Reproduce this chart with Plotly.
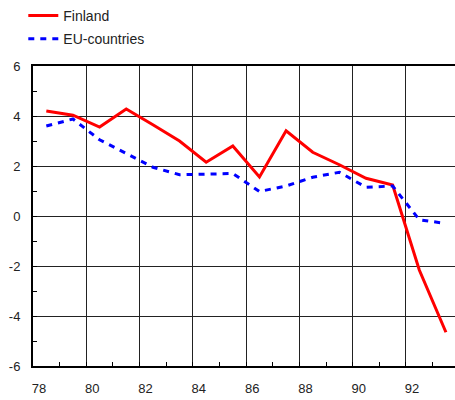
import plotly.graph_objects as go

years = [78.5, 79.5, 80.5, 81.5, 82.5, 83.5, 84.5, 85.5, 86.5, 87.5, 88.5, 89.5, 90.5, 91.5, 92.5, 93.5]
finland = [4.2, 4.03, 3.56, 4.28, 3.65, 3.0, 2.15, 2.8, 1.56, 3.41, 2.55, 2.05, 1.51, 1.24, -2.16, -4.65]
eu = [3.6, 3.88, 3.05, 2.5, 1.95, 1.65, 1.68, 1.7, 0.98, 1.2, 1.55, 1.75, 1.15, 1.2, -0.15, -0.3]
x_ticks = [78, 80, 82, 84, 86, 88, 90, 92]
y_ticks = [-6, -4, -2, 0, 2, 4, 6]

FONT = "Liberation Sans, Arial, sans-serif"

fig = go.Figure()
fig.add_trace(go.Scatter(x=years, y=finland, mode="lines", name="Finland", legendgroup="a",
                         line=dict(color="#ff0000", width=3)))
fig.add_trace(go.Scatter(x=years, y=eu, mode="lines", name="EU-countries", legendgroup="b",
                         line=dict(color="#0000ff", width=3, dash="6px,6px")))

fig.update_layout(
    width=455, height=400,
    margin=dict(l=33, r=0, t=66, b=34, autoexpand=False),
    paper_bgcolor="white", plot_bgcolor="white",
    font=dict(family=FONT, size=13, color="#222"),
    showlegend=True,
    legend=dict(x=-0.023, y=1.0, xref="paper", yref="container", xanchor="left", yanchor="top",
                font=dict(size=14, color="#222"), bgcolor="rgba(0,0,0,0)",
                itemwidth=30, tracegroupgap=2),
)

fig.update_xaxes(
    range=[78, 93.84], tickvals=x_ticks, ticktext=[str(v) for v in x_ticks],
    showgrid=True, gridcolor="#222", gridwidth=1,
    showline=True, linecolor="black", linewidth=2, mirror=True,
    ticks="inside", ticklen=4, tickcolor="black",
    minor=dict(dtick=1, tick0=78, ticks="inside", ticklen=4, tickcolor="black", showgrid=False),
    zeroline=False, ticklabelshift=6, ticklabelstandoff=9, automargin=False,
    tickfont=dict(size=13),
)
fig.update_yaxes(
    range=[-6, 6], tickvals=y_ticks, ticktext=[str(v) for v in y_ticks],
    showgrid=True, gridcolor="#222", gridwidth=1,
    showline=True, linecolor="black", linewidth=2, mirror=True,
    ticks="inside", ticklen=4, tickcolor="black",
    minor=dict(dtick=1, tick0=0, ticks="inside", ticklen=4, tickcolor="black", showgrid=False),
    zeroline=False, ticklabelstandoff=8, automargin=False,
    tickfont=dict(size=13),
)

fig.write_html("out.html", config={"displayModeBar": False},
               post_script="document.body.style.margin='0';document.body.style.overflow='hidden';")
